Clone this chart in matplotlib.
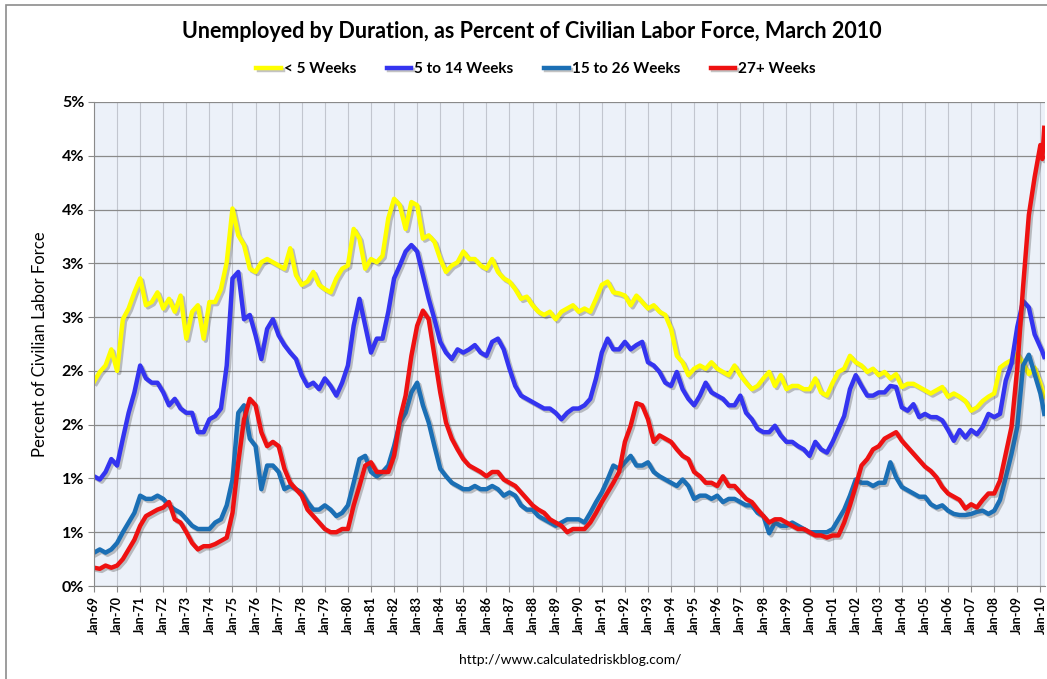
import numpy as np
import matplotlib
matplotlib.use("Agg")
import matplotlib.pyplot as plt
import matplotlib.patheffects as pe
from matplotlib.patches import Rectangle
from matplotlib.ticker import FuncFormatter, MultipleLocator

# quarterly readings 1969-2009 (Jan, Apr, Jul, Oct), then Jan/Feb/Mar 2010
first_year = 1969
last_year = 2009
months_2010 = [1, 2, 3]

# < 5 weeks, percent of civilian labor force
under5 = [
    1.90, 1.99, 2.05, 2.20,  2.00, 2.48, 2.58, 2.73,  2.86, 2.61, 2.64, 2.73,
    2.58, 2.67, 2.55, 2.70,  2.30, 2.55, 2.61, 2.30,  2.64, 2.64, 2.76, 3.01,
    3.51, 3.26, 3.17, 2.95,  2.92, 3.01, 3.04, 3.01,  2.98, 2.95, 3.14, 2.89,
    2.80, 2.83, 2.92, 2.80,  2.76, 2.73, 2.86, 2.95,  2.98, 3.32, 3.23, 2.95,
    3.04, 3.01, 3.07, 3.42,  3.60, 3.54, 3.32, 3.57,  3.54, 3.23, 3.26, 3.20,
    3.04, 2.92, 2.98, 3.01,  3.11, 3.04, 3.04, 2.98,  2.95, 3.04, 2.92, 2.86,
    2.83, 2.76, 2.67, 2.69,  2.61, 2.55, 2.52, 2.55,  2.48, 2.55, 2.58, 2.61,
    2.55, 2.58, 2.55, 2.67,  2.80, 2.83, 2.73, 2.72,  2.70, 2.61, 2.70, 2.64,
    2.58, 2.61, 2.55, 2.52,  2.39, 2.14, 2.08, 1.96,  2.02, 2.05, 2.02, 2.08,
    2.02, 1.99, 1.96, 2.05,  1.96, 1.89, 1.83, 1.86,  1.93, 1.99, 1.86, 1.96,
    1.83, 1.86, 1.86, 1.83,  1.83, 1.93, 1.80, 1.77,  1.89, 1.99, 2.02, 2.14,
    2.08, 2.05, 1.99, 2.02,  1.96, 1.99, 1.93, 1.97,  1.85, 1.88, 1.88, 1.85,
    1.82, 1.79, 1.82, 1.85,  1.76, 1.79, 1.76, 1.72,  1.63, 1.66, 1.72, 1.76,
    1.79, 2.03, 2.07, 2.10,  2.16, 2.07, 1.97, 2.03,
    1.88, 1.82, 1.76,
]

# 5 to 14 weeks
wk5_14 = [
    1.02, 0.99, 1.06, 1.18,  1.12, 1.37, 1.61, 1.80,  2.05, 1.93, 1.89, 1.89,
    1.80, 1.68, 1.74, 1.65,  1.61, 1.61, 1.43, 1.43,  1.55, 1.58, 1.65, 2.05,
    2.86, 2.92, 2.48, 2.52,  2.33, 2.11, 2.39, 2.48,  2.33, 2.24, 2.17, 2.11,
    1.96, 1.86, 1.89, 1.83,  1.93, 1.86, 1.77, 1.89,  2.05, 2.42, 2.67, 2.42,
    2.17, 2.30, 2.30, 2.55,  2.86, 2.98, 3.11, 3.17,  3.11, 2.89, 2.67, 2.48,
    2.27, 2.17, 2.11, 2.20,  2.17, 2.20, 2.24, 2.17,  2.14, 2.27, 2.30, 2.20,
    2.02, 1.86, 1.77, 1.74,  1.71, 1.68, 1.65, 1.65,  1.61, 1.55, 1.61, 1.65,
    1.65, 1.68, 1.74, 1.93,  2.17, 2.30, 2.20, 2.20,  2.27, 2.20, 2.24, 2.27,
    2.08, 2.05, 1.99, 1.89,  1.86, 1.99, 1.83, 1.74,  1.68, 1.77, 1.89, 1.80,
    1.77, 1.74, 1.68, 1.68,  1.77, 1.61, 1.55, 1.46,  1.43, 1.43, 1.49, 1.40,
    1.34, 1.34, 1.30, 1.27,  1.21, 1.34, 1.27, 1.24,  1.34, 1.46, 1.58, 1.83,
    1.96, 1.86, 1.77, 1.77,  1.80, 1.80, 1.86, 1.85,  1.66, 1.63, 1.69, 1.57,
    1.60, 1.57, 1.57, 1.54,  1.45, 1.35, 1.45, 1.38,  1.45, 1.41, 1.48, 1.60,
    1.57, 1.60, 1.91, 2.07,  2.41, 2.65, 2.59, 2.34,
    2.22, 2.18, 2.13,
]

# 15 to 26 weeks
wk15_26 = [
    0.31, 0.34, 0.31, 0.34,  0.40, 0.50, 0.59, 0.68,  0.84, 0.81, 0.81, 0.84,
    0.81, 0.75, 0.71, 0.68,  0.62, 0.56, 0.53, 0.53,  0.53, 0.59, 0.62, 0.75,
    0.99, 1.61, 1.68, 1.37,  1.30, 0.90, 1.12, 1.12,  1.06, 0.90, 0.93, 0.90,
    0.87, 0.78, 0.71, 0.71,  0.75, 0.71, 0.65, 0.68,  0.75, 0.96, 1.18, 1.21,
    1.06, 1.02, 1.06, 1.12,  1.30, 1.52, 1.61, 1.80,  1.89, 1.68, 1.52, 1.30,
    1.09, 1.02, 0.96, 0.93,  0.90, 0.90, 0.93, 0.90,  0.90, 0.93, 0.90, 0.84,
    0.87, 0.84, 0.75, 0.71,  0.71, 0.65, 0.62, 0.59,  0.56, 0.59, 0.62, 0.62,
    0.62, 0.59, 0.68, 0.78,  0.87, 0.99, 1.12, 1.09,  1.15, 1.21, 1.12, 1.12,
    1.15, 1.06, 1.02, 0.99,  0.96, 0.93, 0.99, 0.93,  0.81, 0.84, 0.84, 0.81,
    0.84, 0.78, 0.81, 0.81,  0.78, 0.75, 0.75, 0.68,  0.65, 0.49, 0.59, 0.56,
    0.56, 0.59, 0.56, 0.53,  0.50, 0.50, 0.50, 0.50,  0.53, 0.62, 0.71, 0.84,
    0.99, 0.96, 0.96, 0.93,  0.96, 0.96, 1.15, 1.01,  0.92, 0.89, 0.86, 0.83,
    0.83, 0.76, 0.73, 0.75,  0.70, 0.67, 0.66, 0.66,  0.67, 0.69, 0.70, 0.67,
    0.70, 0.80, 1.01, 1.23,  1.48, 2.05, 2.15, 1.97,
    1.79, 1.70, 1.60,
]

# 27+ weeks
wk27 = [
    0.17, 0.16, 0.19, 0.17,  0.19, 0.25, 0.34, 0.43,  0.56, 0.65, 0.68, 0.71,
    0.73, 0.78, 0.62, 0.59,  0.50, 0.40, 0.34, 0.37,  0.37, 0.39, 0.42, 0.45,
    0.68, 1.15, 1.55, 1.74,  1.68, 1.43, 1.30, 1.34,  1.30, 1.09, 0.96, 0.90,
    0.84, 0.71, 0.65, 0.59,  0.53, 0.50, 0.50, 0.53,  0.53, 0.75, 0.93, 1.12,
    1.15, 1.06, 1.06, 1.06,  1.21, 1.55, 1.77, 2.14,  2.42, 2.56, 2.48, 2.14,
    1.80, 1.52, 1.37, 1.27,  1.18, 1.12, 1.09, 1.06,  1.02, 1.06, 1.06, 0.99,
    0.96, 0.93, 0.87, 0.81,  0.75, 0.71, 0.68, 0.62,  0.59, 0.56, 0.50, 0.53,
    0.53, 0.53, 0.59, 0.68,  0.78, 0.87, 0.96, 1.06,  1.34, 1.49, 1.70, 1.68,
    1.55, 1.34, 1.40, 1.37,  1.34, 1.27, 1.21, 1.18,  1.06, 1.02, 0.96, 0.96,
    0.93, 1.02, 0.93, 0.93,  0.87, 0.81, 0.78, 0.71,  0.65, 0.59, 0.62, 0.62,
    0.59, 0.56, 0.53, 0.53,  0.50, 0.47, 0.47, 0.45,  0.47, 0.47, 0.59, 0.75,
    0.93, 1.12, 1.18, 1.27,  1.30, 1.37, 1.40, 1.43,  1.35, 1.29, 1.23, 1.17,
    1.11, 1.07, 1.01, 0.92,  0.86, 0.83, 0.80, 0.72,  0.76, 0.73, 0.80, 0.86,
    0.86, 0.98, 1.23, 1.48,  2.03, 2.78, 3.45, 3.80,
    4.10, 3.97, 4.26,
]

labels = ["< 5 Weeks", "5 to 14 Weeks", "15 to 26 Weeks", "27+ Weeks"]
colors = ["#ffff00", "#3434f0", "#1b6fb5", "#ee1111"]

# decimal year for each reading
t = [y + q / 4 for y in range(first_year, last_year + 1) for q in range(4)]
t += [2010 + (m - 1) / 12 for m in months_2010]
t = np.array(t)

fig = plt.figure(figsize=(10.47, 6.79), dpi=100)
fig.patch.set_facecolor("white")
fig.add_artist(Rectangle((6 / 1047, -0.01), 1.0, (679 - 5) / 679 + 0.01,
                         transform=fig.transFigure, fill=False,
                         edgecolor="#8c8c8c", lw=1.2))

ax = fig.add_axes([94 / 1047, (679 - 586) / 679, (1045 - 94) / 1047, (586 - 102) / 679])
ax.set_facecolor("#ecf1f9")

shadow = [pe.SimpleLineShadow(offset=(1.5, -1.5), shadow_color="#555555", alpha=0.35),
          pe.Normal()]
for series, lab, col in zip([under5, wk5_14, wk15_26, wk27], labels, colors):
    ax.plot(t, series, color=col, lw=3.2, label=lab, solid_joinstyle="round",
            path_effects=shadow)

ax.set_xlim(1969, 2010.2)
ax.set_ylim(0, 4.5)

years = np.arange(1969, 2011)
ax.set_xticks(years)
ax.set_xticklabels(["Jan-%02d" % (y % 100) for y in years], rotation=90,
                   fontsize=9, fontweight="bold", family="Lato")
ax.yaxis.set_major_locator(MultipleLocator(0.5))
ax.yaxis.set_major_formatter(FuncFormatter(lambda v, p: "%d%%" % int(v + 0.5 + 1e-9)))
for lbl in ax.get_yticklabels():
    lbl.set_fontweight("bold")
    lbl.set_family("Lato")
    lbl.set_fontsize(11.5)

ax.grid(axis="y", color="#8a8a8a", lw=0.9)
ax.grid(axis="x", color="#c2c6cf", lw=0.8)
ax.set_axisbelow(True)
for s in ["top", "right"]:
    ax.spines[s].set_visible(False)
ax.spines["left"].set_color("#8a8a8a")
ax.spines["bottom"].set_color("#8a8a8a")
ax.tick_params(axis="both", direction="out", length=4, color="#8a8a8a", pad=3)

ax.set_ylabel("Percent of Civilian Labor Force", fontsize=12, family="Lato", labelpad=10)

fig.text(0.508, 1 - 31 / 679, "Unemployed by Duration, as Percent of Civilian Labor Force, March 2010",
         ha="center", va="center", fontsize=15.5, fontweight="bold", family="Lato")
fig.legend(loc="center", bbox_to_anchor=(0.512, 1 - 69 / 679), ncol=4, frameon=False,
           prop={"family": "Lato", "weight": "bold", "size": 11},
           handlelength=1.6, columnspacing=2.0, handletextpad=0.2)
fig.text(570 / 1047, 1 - 660 / 679, "http://www.calculatedriskblog.com/",
         ha="center", va="center", fontsize=10, family="Lato")

fig.savefig("out.png", dpi=100)
